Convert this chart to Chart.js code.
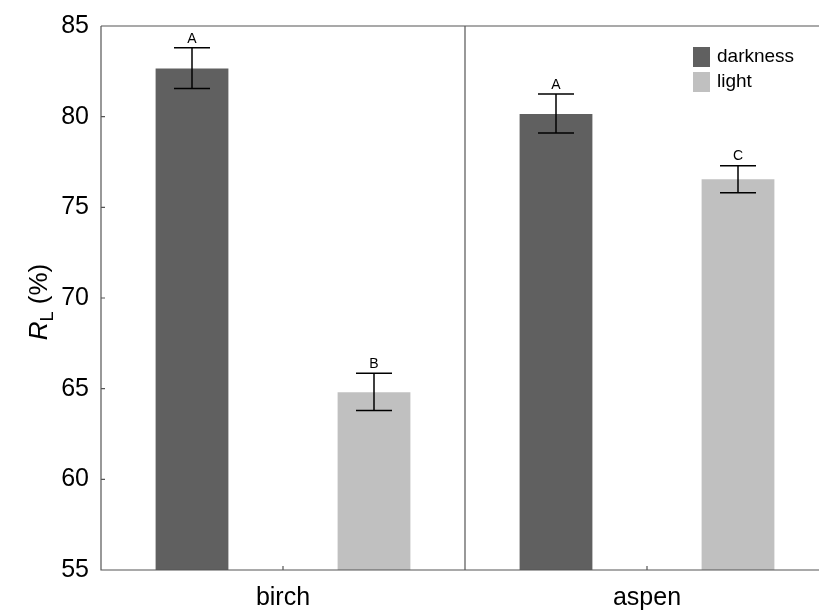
<!DOCTYPE html>
<html>
<head>
<meta charset="utf-8">
<script src="https://cdn.jsdelivr.net/npm/chart.js@4"></script>
<style>
  html, body { margin: 0; padding: 0; background: #fff; overflow: hidden; }
  #wrap { width: 832px; height: 610px; }
</style>
</head>
<body>
<div id="wrap"><canvas id="rlChart"></canvas></div>
<script>
const species = ['birch', 'aspen'];
const darkMean = [82.65, 80.15];
const darkLow = [81.55, 79.1];
const darkHigh = [83.8, 81.25];
const darkLetters = ['A', 'A'];
const lightMean = [64.8, 76.55];
const lightLow = [63.8, 75.8];
const lightHigh = [65.85, 77.3];
const lightLetters = ['B', 'C'];

const errorBars = [
    { low: darkLow, high: darkHigh, letters: darkLetters },
    { low: lightLow, high: lightHigh, letters: lightLetters }
];

const font = 'Liberation Sans, Arial, sans-serif';

// error bars, letters, frame, ticks, legend, axis title
const extras = {
    id: 'extras',
    afterDatasetsDraw(chart) {
        const c = chart.ctx;
        const a = chart.chartArea;
        const y = chart.scales.y;
        const x = chart.scales.x;
        c.save();

        c.strokeStyle = '#000';
        c.lineWidth = 1.5;
        c.fillStyle = '#000';
        c.font = '14px ' + font;
        c.textAlign = 'center';
        c.textBaseline = 'bottom';
        errorBars.forEach((eb, di) => {
            chart.getDatasetMeta(di).data.forEach((bar, i) => {
                const yh = y.getPixelForValue(eb.high[i]);
                const yl = y.getPixelForValue(eb.low[i]);
                c.beginPath();
                c.moveTo(bar.x, yh); c.lineTo(bar.x, yl);
                c.moveTo(bar.x - 18, yh); c.lineTo(bar.x + 18, yh);
                c.moveTo(bar.x - 18, yl); c.lineTo(bar.x + 18, yl);
                c.stroke();
                c.fillText(eb.letters[i], bar.x, yh - 2);
            });
        });

        // frame and divider
        c.strokeStyle = '#555';
        c.lineWidth = 1.2;
        c.beginPath();
        c.moveTo(a.left, a.top); c.lineTo(a.right, a.top);
        c.moveTo(a.left, a.top); c.lineTo(a.left, a.bottom); c.lineTo(a.right, a.bottom);
        const mid = (x.getPixelForValue(0) + x.getPixelForValue(1)) / 2;
        c.moveTo(mid, a.top); c.lineTo(mid, a.bottom);
        y.ticks.forEach(t => {
            const py = y.getPixelForValue(t.value);
            c.moveTo(a.left, py); c.lineTo(a.left + 4, py);
        });
        species.forEach((s, i) => {
            const px = x.getPixelForValue(i);
            c.moveTo(px, a.bottom); c.lineTo(px, a.bottom - 4);
        });
        c.stroke();

        // legend
        c.font = '19px ' + font;
        c.textAlign = 'left';
        c.textBaseline = 'middle';
        chart.data.datasets.forEach((ds, i) => {
            const ly = 47 + i * 25;
            c.fillStyle = ds.backgroundColor;
            c.fillRect(693, ly, 17, 20);
            c.fillStyle = '#000';
            c.fillText(ds.label, 717, ly + 10);
        });

        // y title: R_L (%)
        c.translate(40, 302);
        c.rotate(-Math.PI / 2);
        c.textBaseline = 'middle';
        c.fillStyle = '#000';
        c.font = 'italic 26px ' + font;
        const wR = c.measureText('R').width;
        c.font = '18px ' + font;
        const wL = c.measureText('L').width;
        c.font = '26px ' + font;
        const wP = c.measureText(' (%)').width;
        let px = -(wR + wL + wP) / 2;
        c.font = 'italic 26px ' + font;
        c.fillText('R', px, 0);
        px += wR;
        c.font = '18px ' + font;
        c.fillText('L', px, 8);
        px += wL;
        c.font = '26px ' + font;
        c.fillText(' (%)', px, 0);

        c.restore();
    }
};

new Chart(document.getElementById('rlChart'), {
    type: 'bar',
    data: {
        labels: species,
        datasets: [
            { label: 'darkness', data: darkMean, backgroundColor: '#606060' },
            { label: 'light', data: lightMean, backgroundColor: '#c0c0c0' }
        ]
    },
    options: {
        responsive: true,
        maintainAspectRatio: false,
        animation: false,
        categoryPercentage: 1,
        barPercentage: 0.4,
        layout: { padding: { top: 26, right: 3, left: 0, bottom: 0 } },
        plugins: { legend: { display: false }, tooltip: { enabled: false } },
        scales: {
            x: {
                grid: { display: false },
                border: { display: false },
                ticks: { color: '#000', padding: 5, font: { family: font, size: 25 } },
                afterFit(s) { s.height = 40; }
            },
            y: {
                min: 55,
                max: 85,
                grid: { display: false },
                border: { display: false },
                ticks: { stepSize: 5, color: '#000', padding: 4, font: { family: font, size: 25 } },
                afterFit(s) { s.width = 101; }
            }
        }
    },
    plugins: [extras]
});
</script>
</body>
</html>
